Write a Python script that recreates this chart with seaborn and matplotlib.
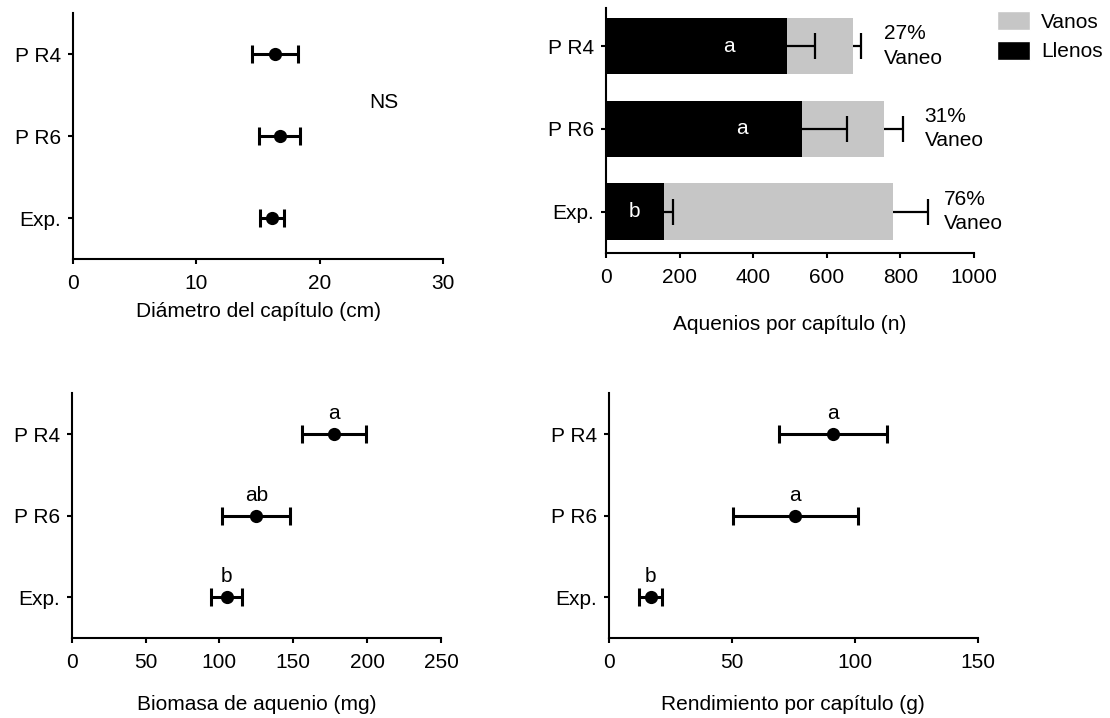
import numpy as np
import pandas as pd
import matplotlib
matplotlib.use("Agg")
import matplotlib.pyplot as plt
import seaborn as sns
from matplotlib.patches import Patch

# tratamientos (mismo orden en los cuatro paneles)
tratamientos = ["P R4", "P R6", "Exp."]

# diámetro del capítulo (cm), media y error
diametro = [16.4, 16.75, 16.15]
diametro_ee = [1.85, 1.7, 1.0]

# aquenios por capítulo (n): llenos y total (llenos + vanos)
llenos = [491, 533, 157]
llenos_ee = [77, 121, 24]
aquenios_total = [672, 756, 779]
vanos_ee = [21, 50, 96]
vaneo_txt = ["27%", "31%", "76%"]
letras_aquenios = ["a", "a", "b"]

# biomasa de aquenio (mg)
biomasa = [177.5, 125.0, 105.0]
biomasa_ee = [21.5, 23.0, 10.5]
letras_biomasa = ["a", "ab", "b"]

# rendimiento por capítulo (g)
rendimiento = [91.2, 75.8, 16.9]
rendimiento_ee = [22.0, 25.3, 4.7]
letras_rendimiento = ["a", "a", "b"]

GRIS = "#c6c6c6"

sns.set_style("ticks")
plt.rcParams["font.family"] = ["Liberation Sans", "DejaVu Sans"]
plt.rcParams["font.size"] = 15
plt.rcParams["axes.linewidth"] = 1.5
# todo en negro puro (seaborn usa gris oscuro por defecto)
plt.rcParams["text.color"] = "black"
plt.rcParams["axes.labelcolor"] = "black"
plt.rcParams["axes.edgecolor"] = "black"
plt.rcParams["xtick.color"] = "black"
plt.rcParams["ytick.color"] = "black"


def formato_ejes(ax, xmax, paso, etiqueta, labelpad, ymin=-0.5):
  ax.set_xlim(0, xmax)
  ax.set_xticks(np.arange(0, xmax + paso / 2, paso))
  ax.set_ylim(2.5, ymin)
  ax.set_ylabel("")
  ax.set_xlabel(etiqueta, fontsize=15, labelpad=labelpad)
  ax.tick_params(axis="both", width=1.5, length=3.6, labelsize=15, color="black")
  ax.tick_params(axis="x", pad=7)
  ax.tick_params(axis="y", pad=5)
  sns.despine(ax=ax)


# panel de puntos con media y barra de error
def panel_puntos(ax, valores, errores, xmax, paso, etiqueta, labelpad, letras=None):
  df = pd.DataFrame({"trat": tratamientos, "valor": valores})
  sns.pointplot(data=df, x="valor", y="trat", orient="h", color="black",
                linestyle="none", markers="o", markersize=9.5,
                markeredgewidth=0, errorbar=None, ax=ax, zorder=3)
  posiciones = np.arange(len(tratamientos))
  ax.errorbar(valores, posiciones, xerr=errores, fmt="none", ecolor="black",
              elinewidth=2.2, capsize=6.5, capthick=2.2, zorder=2)
  if letras:
    for v, p, letra in zip(valores, posiciones, letras):
      ax.annotate(letra, (v, p), xytext=(0, 11), textcoords="offset points",
                  ha="center", va="baseline", fontsize=15)
  formato_ejes(ax, xmax, paso, etiqueta, labelpad)


# barra de error solo hacia la derecha, con tapa en el extremo
def error_derecha(ax, x, errores):
  y = np.arange(len(x))
  fin = np.asarray(x) + np.asarray(errores)
  ax.hlines(y, x, fin, color="black", linewidth=1.6, zorder=4)
  ax.plot(fin, y, linestyle="none", marker="|", markersize=19.4,
          markeredgewidth=1.6, color="black", zorder=4)


fig = plt.figure(figsize=(11.1, 7.18), dpi=100)

W, H = 1110, 718
def caja(izq, der, arriba, abajo):
  return [izq / W, 1 - abajo / H, (der - izq) / W, (abajo - arriba) / H]

ax1 = fig.add_axes(caja(73.3, 442.7, 13, 259))
ax2 = fig.add_axes(caja(606, 974, 8, 253))
ax3 = fig.add_axes(caja(71.7, 441, 393.3, 638.3))
ax4 = fig.add_axes(caja(609, 977.7, 393.3, 638.3))

# diámetro
panel_puntos(ax1, diametro, diametro_ee, 30, 10, "Diámetro del capítulo (cm)", 6.8)
ax1.text(25.2, 0.59, "NS", ha="center", va="center", fontsize=15)

# aquenios por capítulo (barras apiladas)
df_aq = pd.DataFrame({"trat": tratamientos, "total": aquenios_total, "llenos": llenos})
sns.barplot(data=df_aq, x="total", y="trat", orient="h", color=GRIS, width=0.684,
            saturation=1, linewidth=0, errorbar=None, ax=ax2)
sns.barplot(data=df_aq, x="llenos", y="trat", orient="h", color="black", width=0.684,
            saturation=1, linewidth=0, errorbar=None, ax=ax2)
error_derecha(ax2, llenos, llenos_ee)
error_derecha(ax2, aquenios_total, vanos_ee)

pos = np.arange(len(tratamientos))
x_letra = [333, 370, 76]
for xl, p, letra in zip(x_letra, pos, letras_aquenios):
  ax2.text(xl, p, letra, color="white", ha="center", va="center", fontsize=15, zorder=5)

x_vaneo = [756, 866, 917]
for xv, p, pct in zip(x_vaneo, pos, vaneo_txt):
  ax2.text(xv, p, pct + "\nVaneo", ha="left", va="center", fontsize=15, linespacing=1.35)

formato_ejes(ax2, 1000, 200, "Aquenios por capítulo (n)", 20, ymin=-0.46)

leyenda = [Patch(facecolor=GRIS, label="Vanos"), Patch(facecolor="black", label="Llenos")]
fig.legend(handles=leyenda, loc="upper left", bbox_to_anchor=(997 / W, 1 - 11 / H),
           frameon=False, fontsize=15, handlelength=1.6, handleheight=1.05,
           handletextpad=0.53, labelspacing=0.42, borderpad=0, borderaxespad=0)

# biomasa
panel_puntos(ax3, biomasa, biomasa_ee, 250, 50, "Biomasa de aquenio (mg)", 16.6, letras_biomasa)

# rendimiento
panel_puntos(ax4, rendimiento, rendimiento_ee, 150, 50, "Rendimiento por capítulo (g)", 16.6, letras_rendimiento)

fig.savefig("out.png", dpi=100)
